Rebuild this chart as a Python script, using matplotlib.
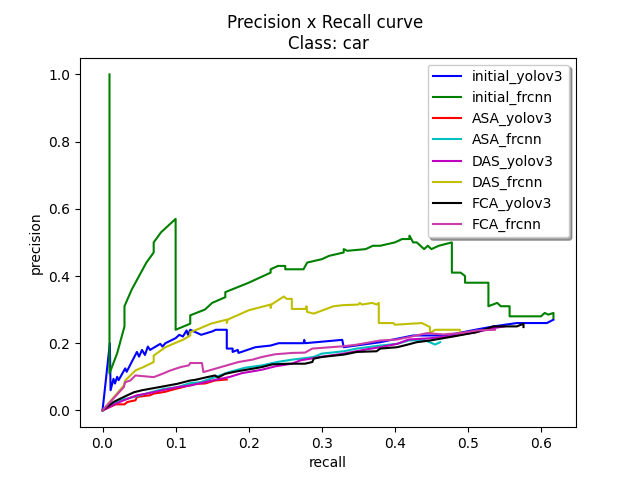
import matplotlib
matplotlib.use("Agg")
import matplotlib.pyplot as plt

# initial_yolov3
iy_r = [0, 0.01, 0.011, 0.015, 0.017, 0.02, 0.022, 0.031, 0.033, 0.047, 0.05, 0.054, 0.058, 0.062, 0.065,
        0.079, 0.082, 0.086, 0.1, 0.105, 0.11, 0.115, 0.117, 0.12, 0.13, 0.135, 0.15, 0.155, 0.17, 0.17,
        0.178, 0.178, 0.185, 0.186, 0.209, 0.23, 0.241, 0.275, 0.276, 0.277, 0.318, 0.328, 0.33, 0.38,
        0.425, 0.466, 0.482, 0.51, 0.535, 0.567, 0.608, 0.617]
iy_p = [0, 0.20, 0.06, 0.094, 0.08, 0.10, 0.09, 0.125, 0.115, 0.174, 0.16, 0.18, 0.165, 0.19, 0.18,
        0.198, 0.19, 0.20, 0.215, 0.225, 0.22, 0.238, 0.225, 0.24, 0.23, 0.225, 0.235, 0.24, 0.24, 0.184,
        0.184, 0.174, 0.18, 0.171, 0.188, 0.193, 0.20, 0.20, 0.21, 0.20, 0.208, 0.21, 0.188, 0.203,
        0.223, 0.223, 0.228, 0.24, 0.25, 0.26, 0.26, 0.27]

# initial_frcnn
if_r = [0.0095, 0.0095, 0.02, 0.03, 0.03, 0.04, 0.05, 0.06, 0.07, 0.07, 0.08, 0.09, 0.1, 0.1, 0.12, 0.12,
        0.14, 0.15, 0.168, 0.168, 0.2, 0.23, 0.23, 0.24, 0.25, 0.25, 0.26, 0.275, 0.28, 0.30, 0.31, 0.32,
        0.33, 0.33, 0.335, 0.36, 0.37, 0.38, 0.40, 0.41, 0.42, 0.42, 0.425, 0.43, 0.44, 0.445, 0.45, 0.46,
        0.478, 0.478, 0.49, 0.496, 0.496, 0.528, 0.528, 0.54, 0.545, 0.557, 0.557, 0.60, 0.605, 0.61,
        0.617, 0.617]
if_p = [1.0, 0.11, 0.17, 0.25, 0.31, 0.36, 0.40, 0.44, 0.47, 0.50, 0.53, 0.55, 0.57, 0.24, 0.258, 0.283,
        0.30, 0.32, 0.337, 0.352, 0.38, 0.41, 0.42, 0.43, 0.43, 0.42, 0.42, 0.42, 0.44, 0.45, 0.46, 0.465,
        0.47, 0.48, 0.475, 0.48, 0.49, 0.49, 0.50, 0.51, 0.51, 0.52, 0.50, 0.50, 0.48, 0.49, 0.48, 0.49,
        0.50, 0.41, 0.41, 0.40, 0.38, 0.38, 0.31, 0.32, 0.31, 0.31, 0.28, 0.28, 0.29, 0.285,
        0.29, 0.275]

# ASA_yolov3
ay_r = [0, 0.018, 0.03, 0.034, 0.045, 0.047, 0.065, 0.07, 0.085, 0.093, 0.109, 0.127, 0.14, 0.154, 0.17]
ay_p = [0, 0.018, 0.018, 0.025, 0.03, 0.04, 0.045, 0.05, 0.055, 0.06, 0.069, 0.079, 0.08, 0.089, 0.092]

# ASA_frcnn
af_r = [0, 0.022, 0.043, 0.066, 0.084, 0.102, 0.12, 0.134, 0.154, 0.173, 0.195, 0.218, 0.239, 0.259,
        0.271, 0.289, 0.30, 0.33, 0.348, 0.38, 0.403, 0.419, 0.44, 0.455, 0.462]
af_p = [0, 0.03, 0.04, 0.054, 0.064, 0.069, 0.081, 0.084, 0.099, 0.114, 0.127, 0.134, 0.144, 0.151,
        0.154, 0.159, 0.169, 0.176, 0.184, 0.193, 0.198, 0.208, 0.21, 0.196, 0.203]

# DAS_yolov3
dy_r = [0, 0.018, 0.029, 0.047, 0.061, 0.082, 0.102, 0.12, 0.134, 0.154, 0.173, 0.191, 0.218, 0.236,
        0.259, 0.271, 0.298, 0.33, 0.362, 0.38, 0.403, 0.419, 0.45, 0.48, 0.51, 0.535, 0.55]
dy_p = [0, 0.02, 0.03, 0.045, 0.05, 0.06, 0.069, 0.074, 0.081, 0.091, 0.099, 0.111, 0.121, 0.131,
        0.139, 0.149, 0.159, 0.169, 0.182, 0.188, 0.198, 0.211, 0.215, 0.222, 0.232, 0.245, 0.25]

# DAS_frcnn
df_r = [0, 0.029, 0.031, 0.045, 0.056, 0.07, 0.07, 0.086, 0.102, 0.11, 0.12, 0.12, 0.132, 0.148, 0.166,
        0.17, 0.17, 0.171, 0.2, 0.23, 0.23, 0.231, 0.248, 0.252, 0.259, 0.259, 0.278, 0.279, 0.28,
        0.289, 0.316, 0.328, 0.35, 0.352, 0.355, 0.369, 0.375, 0.378, 0.378, 0.398, 0.4, 0.437,
        0.448, 0.448, 0.455, 0.489, 0.489]
df_p = [0, 0.074, 0.089, 0.119, 0.129, 0.144, 0.163, 0.188, 0.203, 0.21, 0.223, 0.233, 0.243, 0.258, 0.268,
        0.27, 0.26, 0.27, 0.298, 0.315, 0.305, 0.315, 0.339, 0.332, 0.332, 0.302, 0.302, 0.31, 0.293,
        0.288, 0.31, 0.313, 0.315, 0.32, 0.315, 0.32, 0.315, 0.32, 0.26, 0.26, 0.255, 0.26,
        0.248, 0.23, 0.24, 0.24, 0.23]

# FCA_yolov3
fy_r = [0, 0.015, 0.029, 0.043, 0.054, 0.077, 0.102, 0.12, 0.127, 0.143, 0.154, 0.158, 0.168, 0.186,
        0.205, 0.218, 0.232, 0.255, 0.277, 0.287, 0.289, 0.30, 0.33, 0.348, 0.375, 0.38, 0.403, 0.416,
        0.43, 0.448, 0.48, 0.512, 0.535, 0.567, 0.576, 0.576]
fy_p = [0, 0.025, 0.04, 0.054, 0.06, 0.069, 0.079, 0.089, 0.091, 0.099, 0.104, 0.098, 0.109, 0.117,
        0.124, 0.129, 0.137, 0.139, 0.139, 0.144, 0.154, 0.159, 0.166, 0.174, 0.176, 0.184, 0.188, 0.195,
        0.203, 0.208, 0.22, 0.233, 0.25, 0.25, 0.258, 0.248]

# FCA_frcnn
ff_r = [0, 0.029, 0.031, 0.038, 0.045, 0.07, 0.082, 0.093, 0.107, 0.118, 0.12, 0.129, 0.136, 0.138,
        0.154, 0.17, 0.186, 0.205, 0.218, 0.236, 0.259, 0.277, 0.287, 0.33, 0.346, 0.362, 0.38, 0.403,
        0.419, 0.444, 0.466, 0.489, 0.512, 0.537]
ff_p = [0, 0.069, 0.084, 0.089, 0.104, 0.099, 0.109, 0.119, 0.129, 0.134, 0.141, 0.141, 0.141, 0.114,
        0.124, 0.134, 0.144, 0.151, 0.159, 0.167, 0.171, 0.172, 0.184, 0.191, 0.195, 0.201, 0.208, 0.211,
        0.218, 0.23, 0.226, 0.23, 0.238, 0.24]

labels = ["initial_yolov3", "initial_frcnn", "ASA_yolov3", "ASA_frcnn",
          "DAS_yolov3", "DAS_frcnn", "FCA_yolov3", "FCA_frcnn"]
series = [(iy_r, iy_p), (if_r, if_p), (ay_r, ay_p), (af_r, af_p),
          (dy_r, dy_p), (df_r, df_p), (fy_r, fy_p), (ff_r, ff_p)]
colors = ["b", "g", "r", "c", "m", "y", "k", "#cc3ca8"]

fig, ax = plt.subplots(figsize=(6.4, 4.8), dpi=100)
for (r, p), lab, col in zip(series, labels, colors):
    ax.plot(r, p, color=col, label=lab)
ax.set_xlabel("recall")
ax.set_ylabel("precision")
ax.set_title("Precision x Recall curve \nClass: car")
ax.legend(shadow=True)
fig.savefig("out.png")
